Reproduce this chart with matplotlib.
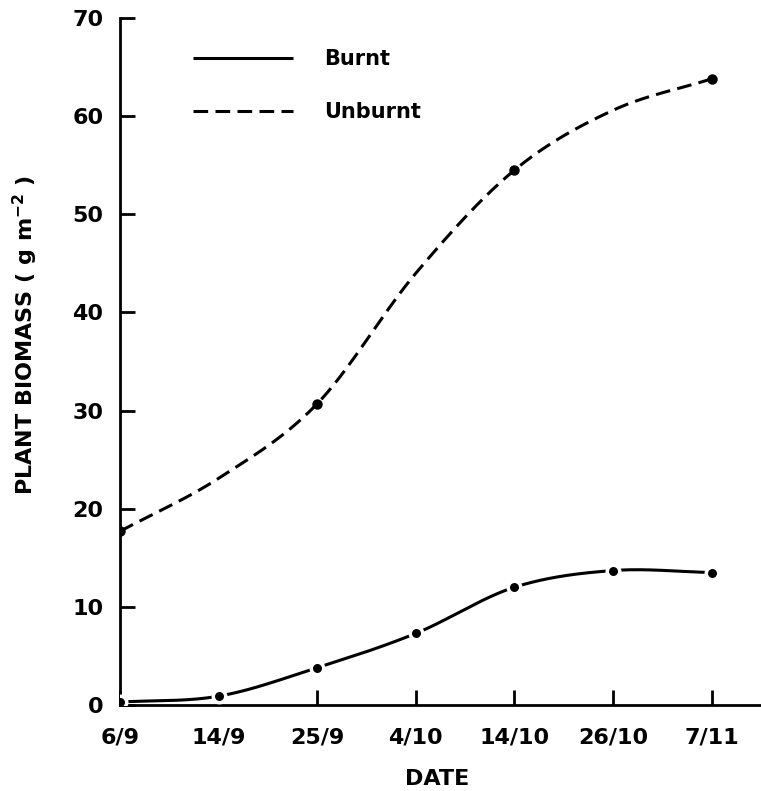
import numpy as np
import matplotlib
matplotlib.use('Agg')
import matplotlib.pyplot as plt

dates = ['6/9', '14/9', '25/9', '4/10', '14/10', '26/10', '7/11']

# (g m-2)
burnt = [0.3, 0.9, 3.8, 7.3, 12.0, 13.7, 13.5]
unburnt = [17.7, 23.1, 30.7, 44.0, 54.5, 60.6, 63.8]
# dates where the unburnt curve carries a sampled point
unburnt_marked = [True, False, True, False, True, False, True]


def smooth(x, y, n=300):
    # Catmull-Rom curve through the data points, for drawing only
    x = np.asarray(x, float)
    y = np.asarray(y, float)
    h = np.diff(x)
    m = np.gradient(y, x)
    xs = np.linspace(x[0], x[-1], n)
    k = np.clip(np.searchsorted(x, xs) - 1, 0, len(x) - 2)
    t = (xs - x[k]) / h[k]
    h00 = 2 * t**3 - 3 * t**2 + 1
    h10 = t**3 - 2 * t**2 + t
    h01 = -2 * t**3 + 3 * t**2
    h11 = t**3 - t**2
    ys = h00 * y[k] + h10 * h[k] * m[k] + h01 * y[k + 1] + h11 * h[k] * m[k + 1]
    return xs, ys


plt.rcParams['font.family'] = ['DejaVu Sans']
plt.rcParams['font.weight'] = 'bold'
plt.rcParams['mathtext.default'] = 'bf'

fig = plt.figure(figsize=(7.61, 7.91), dpi=100)
ax = fig.add_axes([120 / 761, 1 - 705 / 791, 1 - 120 / 761, 687 / 791])

x = np.arange(len(dates))

xs, ys = smooth(x, burnt)
ax.plot(xs, ys, color='black', lw=2.2, label='Burnt', solid_capstyle='butt')
ax.plot(x, burnt, 'o', color='black', ms=9, mec='white', mew=2.5, zorder=3)

xs, yu = smooth(x, unburnt)
ax.plot(xs, yu, color='black', lw=2.2, ls=(0, (4.8, 2.4)), label='Unburnt')
xm = x[np.array(unburnt_marked)]
ym = np.array(unburnt)[np.array(unburnt_marked)]
ax.plot(xm, ym, 'o', color='black', ms=6.5, zorder=3)

ax.set_xlim(0, 6.5)
ax.set_ylim(0, 70)
ax.set_xticks(x)
ax.set_xticklabels(dates)
ax.set_yticks(range(0, 71, 10))

for s in ['top', 'right']:
    ax.spines[s].set_visible(False)
for s in ['left', 'bottom']:
    ax.spines[s].set_linewidth(2)
ax.tick_params(axis='both', direction='in', length=11, width=2, labelsize=16)
ax.tick_params(axis='x', pad=16)
ax.tick_params(axis='y', pad=12)

ax.set_xlabel('DATE', fontsize=16, fontweight='bold')
ax.set_ylabel('PLANT BIOMASS ( g m$^{-2}$ )', fontsize=16, fontweight='bold')
ax.xaxis.set_label_coords(0.4945, -0.093)
ax.yaxis.set_label_coords(-0.125, 0.539)

ax.legend(loc='upper left', bbox_to_anchor=(0.114, 0.955), frameon=False,
          prop={'size': 15, 'weight': 'bold'}, handlelength=4.8,
          handletextpad=1.5, labelspacing=1.6, borderpad=0, borderaxespad=0)

fig.savefig('out.png', dpi=100)
